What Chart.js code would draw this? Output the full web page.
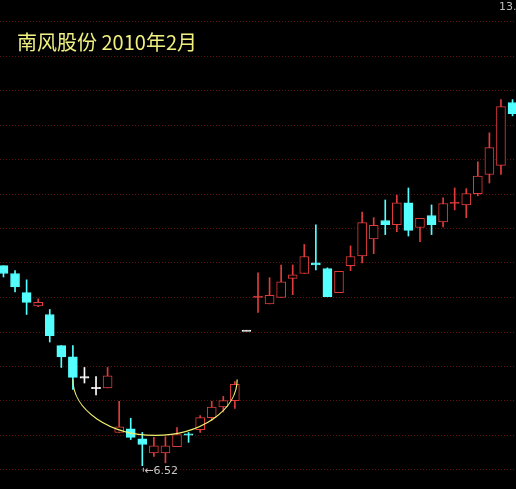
<!DOCTYPE html>
<html>
<head>
<meta charset="utf-8">
<script src="https://cdn.jsdelivr.net/npm/chart.js@4/dist/chart.umd.min.js"></script>
<style>
  html, body { margin: 0; padding: 0; background: #000; }
  #wrap { width: 516px; height: 489px; }
</style>
</head>
<body>
<div id="wrap"><canvas id="kline"></canvas></div>
<script>
// daily candles
var opens  = [9.35, 9.24, 8.97, 8.78, 8.66, 8.22, 8.06, 7.77, 7.62, 7.62, 6.99, 7.04, 6.90, 6.70, 6.70, 6.79, 6.96, 7.03, 7.20, 7.35, 7.44, 8.43,
              8.91, 8.81, 8.90, 9.17, 9.24, 9.39, 9.31, 8.97, 9.35, 9.49, 9.73, 9.99, 9.93, 10.24, 9.89, 10.06, 9.97, 10.24, 10.21, 10.37, 10.64, 10.77, 11.66]
var closes = [9.24, 9.05, 8.83, 8.83, 8.36, 8.06, 7.77, 7.77, 7.62, 7.79, 7.07, 6.92, 6.82, 6.80, 6.80, 6.96, 6.96, 7.20, 7.35, 7.44, 7.67, 8.43,
              8.91, 8.93, 9.12, 9.22, 9.48, 9.36, 8.91, 9.27, 9.48, 9.96, 9.92, 9.93, 10.24, 9.85, 10.02, 9.93, 10.23, 10.24, 10.37, 10.62, 11.02, 11.60, 11.50]
var highs  = [9.35, 9.28, 9.15, 8.88, 8.73, 8.22, 8.22, 7.91, 7.78, 7.91, 7.43, 7.19, 6.99, 6.92, 6.93, 7.06, 6.99, 7.23, 7.43, 7.50, 7.71, 8.43,
              9.25, 9.18, 9.36, 9.36, 9.65, 9.93, 9.32, 9.27, 9.63, 10.11, 10.03, 10.28, 10.35, 10.45, 10.02, 10.21, 10.31, 10.45, 10.44, 10.82, 11.23, 11.70, 11.70]
var lows   = [9.19, 8.98, 8.66, 8.77, 8.27, 7.91, 7.60, 7.69, 7.52, 7.62, 6.99, 6.89, 6.52, 6.65, 6.56, 6.79, 6.85, 6.99, 7.16, 7.28, 7.33, 8.43,
              8.69, 8.81, 8.90, 8.94, 9.24, 9.29, 8.91, 8.97, 9.28, 9.39, 9.52, 9.79, 9.83, 9.77, 9.69, 9.79, 9.90, 10.14, 10.03, 10.34, 10.52, 10.64, 11.47]
// colour of the doji (open == close) candles
var dojiColors = {7: '#ffffff', 8: '#ffffff', 16: '#54ffff', 21: '#ffffff', 22: '#e03c3c', 39: '#e03c3c'}
var gridPrices = [12.80, 12.31, 11.83, 11.34, 10.85, 10.36, 9.87, 9.39, 8.90, 8.41, 7.92, 7.44, 6.95, 6.46]
var lowIndex = 12
var lowLabel = '6.52'
var topLabel = '13.'
var title = '南风股份 2010年2月'

var RED = '#e03c3c', CYAN = '#54ffff'
var bodies = [], wicks = [], fills = [], strokes = []
for (var i = 0; i < opens.length; i++) {
    var o = opens[i], c = closes[i]
    if (o == c) {
        bodies.push({x: i, y: [o - 0.01, c + 0.01]})
        fills.push(dojiColors[i]); strokes.push(dojiColors[i])
    } else if (c > o) {
        bodies.push({x: i, y: [o, c]})
        fills.push('#000000'); strokes.push(RED)
    } else {
        bodies.push({x: i, y: [c, o]})
        fills.push(CYAN); strokes.push(CYAN)
    }
    wicks.push({x: i, y: [lows[i], highs[i]]})
}

var extras = {
    id: 'extras',
    afterDatasetsDraw: function (chart) {
        var ctx = chart.ctx, xs = chart.scales.x, ys = chart.scales.y
        ctx.save()
        // yellow bowl
        var x0 = xs.getPixelForValue(6), x1 = xs.getPixelForValue(20.2)
        var top = ys.getPixelForValue(7.74), bottom = ys.getPixelForValue(6.95)
        ctx.strokeStyle = '#f0f070'; ctx.lineWidth = 1.2
        ctx.beginPath()
        ctx.ellipse((x0 + x1) / 2, top, (x1 - x0) / 2, bottom - top, 0, 0, Math.PI)
        ctx.stroke()
        // low marker
        var lx = xs.getPixelForValue(lowIndex) + 1, ly = ys.getPixelForValue(6.52) + 4
        ctx.strokeStyle = '#c8c8c8'; ctx.lineWidth = 1
        ctx.beginPath(); ctx.moveTo(lx, ly - 2); ctx.lineTo(lx, ly + 2); ctx.stroke()
        ctx.fillStyle = '#c8c8c8'; ctx.font = '11px "DejaVu Sans"'; ctx.textBaseline = 'middle'
        ctx.fillText('←' + lowLabel, lx + 1, ly + 1)
        ctx.fillStyle = '#bbbbbb'; ctx.textBaseline = 'top'
        ctx.fillText(topLabel, 499, 2)
        ctx.fillStyle = '#f0f080'; ctx.font = '20px "Noto Sans CJK SC"'; ctx.textBaseline = 'alphabetic'
        ctx.fillText(title, 17, 50)
        ctx.restore()
    }
}

new Chart(document.getElementById('kline'), {
    type: 'bar',
    data: {
        datasets: [
            {data: bodies, backgroundColor: fills, borderColor: strokes, borderWidth: 1, borderSkipped: false,
             barThickness: 9, grouped: false, order: 1},
            {data: wicks, backgroundColor: strokes, borderWidth: 0, barThickness: 1, grouped: false, order: 2}
        ]
    },
    plugins: [extras],
    options: {
        responsive: true, maintainAspectRatio: false, animation: false,
        layout: {padding: 0},
        plugins: {legend: {display: false}, tooltip: {enabled: false}},
        scales: {
            x: {type: 'linear', min: -0.3, max: 44.3, offset: false, display: false},
            y: {min: 6.19, max: 13.11,
                afterBuildTicks: function (axis) { axis.ticks = gridPrices.map(function (v) { return {value: v} }) },
                grid: {color: '#5e1212', lineWidth: 1, drawTicks: false},
                border: {display: false, dash: [1, 2]},
                ticks: {display: false}}
        }
    }
})
</script>
</body>
</html>
